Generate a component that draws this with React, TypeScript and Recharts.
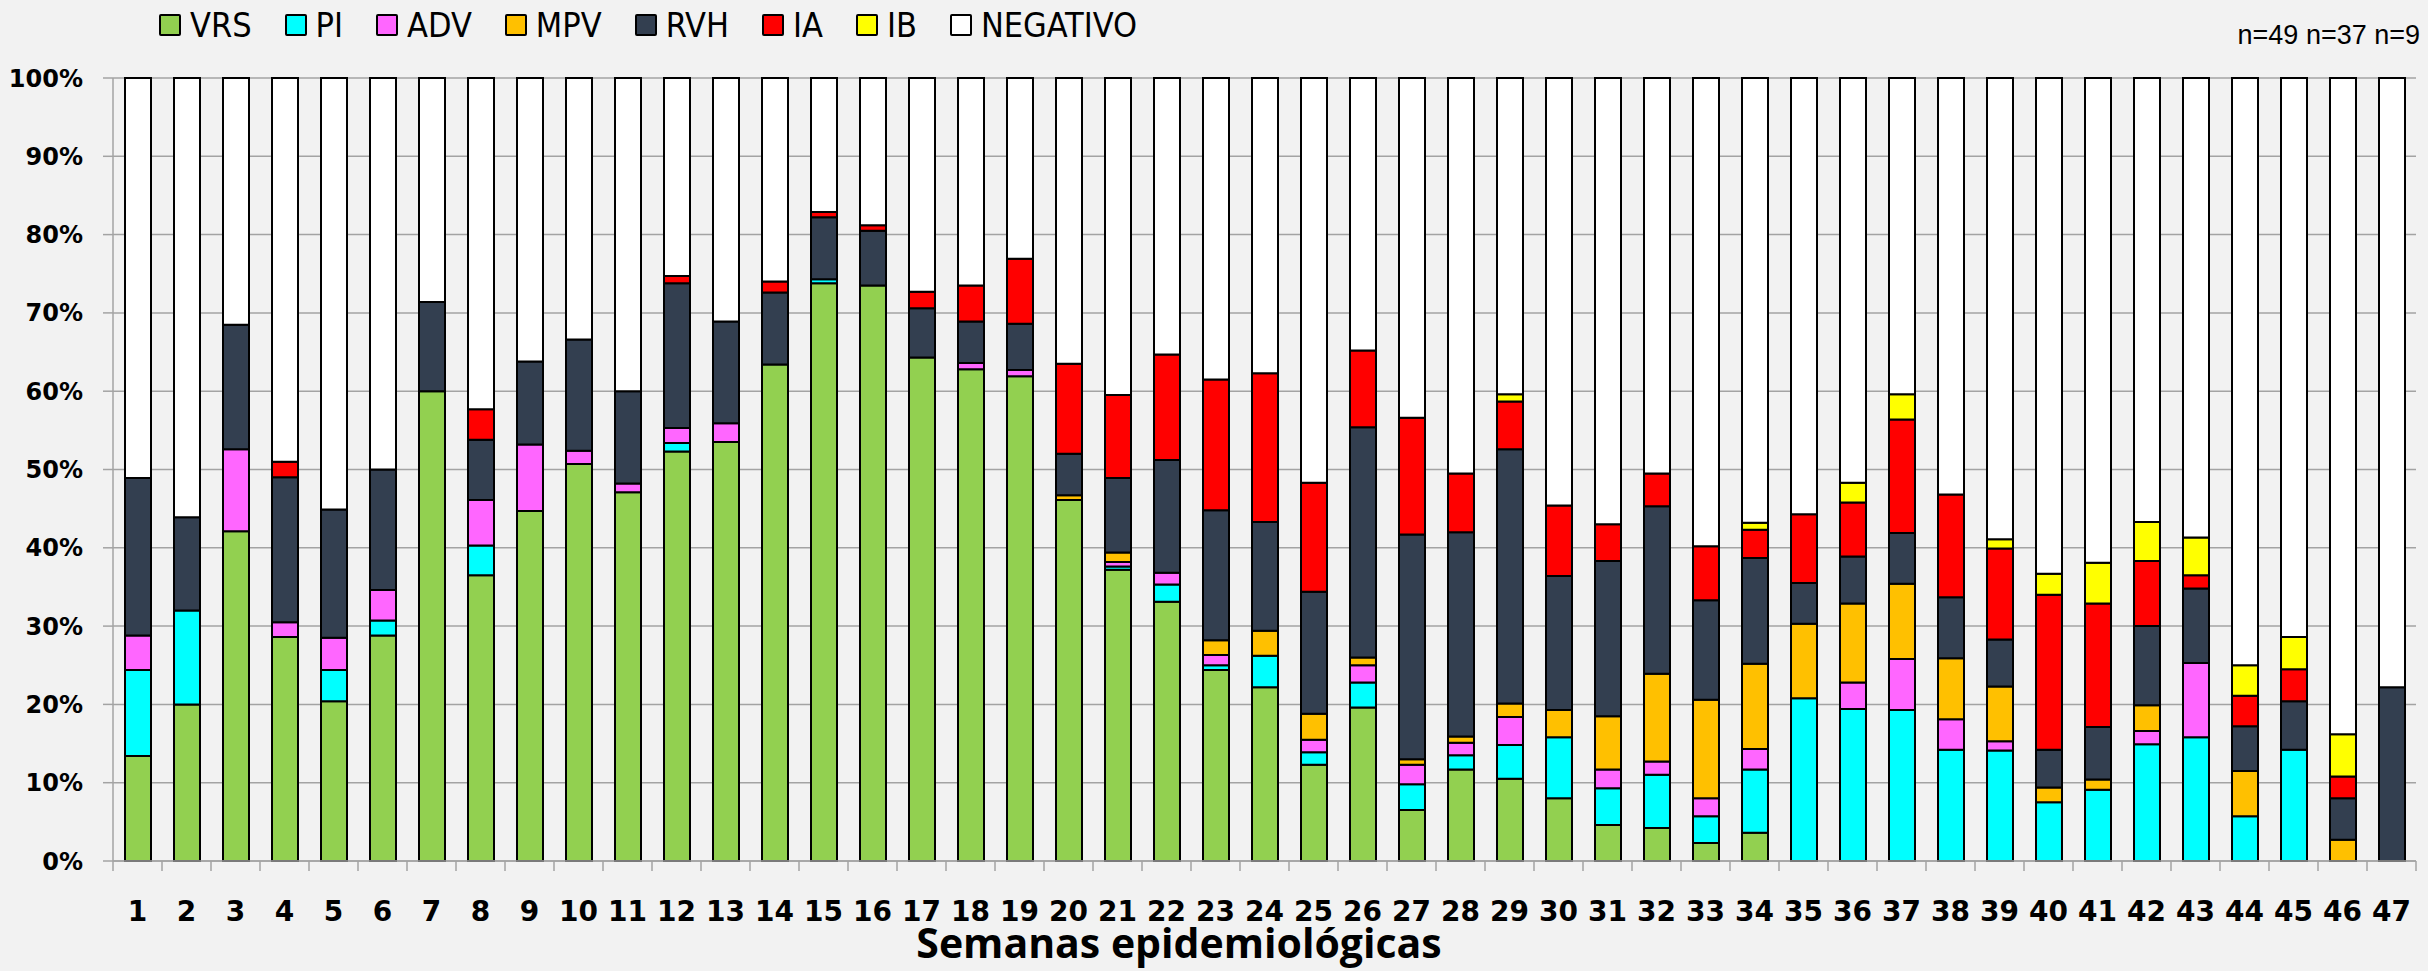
import { BarChart, Bar, XAxis, YAxis, CartesianGrid } from "recharts";

// semanas epidemiológicas 1..47
const weeks = [
  "1", "2", "3", "4", "5", "6", "7", "8", "9", "10",
  "11", "12", "13", "14", "15", "16", "17", "18", "19", "20",
  "21", "22", "23", "24", "25", "26", "27", "28", "29", "30",
  "31", "32", "33", "34", "35", "36", "37", "38", "39", "40",
  "41", "42", "43", "44", "45", "46", "47",
];

// % per week
const vrs = [13.4, 20.0, 42.1, 28.6, 20.4, 28.8, 60.0, 36.5, 44.7, 50.7, 47.1, 52.3, 53.5, 63.4, 73.8, 73.5, 64.3, 62.8, 61.9, 46.1, 37.2, 33.1, 24.4, 22.2, 12.3, 19.6, 6.5, 11.7, 10.5, 8.0, 4.6, 4.2, 2.3, 3.6, 0, 0, 0, 0, 0, 0, 0, 0, 0, 0, 0, 0, 0];
const pi = [11.0, 12.0, 0, 0, 4.0, 1.9, 0, 3.8, 0, 0, 0, 1.1, 0, 0, 0.5, 0, 0, 0, 0, 0, 0.4, 2.2, 0.6, 4.0, 1.6, 3.2, 3.3, 1.8, 4.3, 7.8, 4.7, 6.8, 3.4, 8.1, 20.8, 19.4, 19.3, 14.2, 14.1, 7.5, 9.1, 14.9, 15.8, 5.7, 14.2, 0, 0];
const adv = [4.4, 0, 10.5, 1.9, 4.1, 3.9, 0, 5.8, 8.5, 1.7, 1.1, 1.9, 2.4, 0, 0, 0, 0, 0.8, 0.8, 0, 0.6, 1.5, 1.3, 0, 1.6, 2.2, 2.5, 1.6, 3.6, 0, 2.4, 1.7, 2.3, 2.6, 0, 3.4, 6.5, 3.9, 1.2, 0, 0, 1.7, 9.5, 0, 0, 0, 0];
const mpv = [0, 0, 0, 0, 0, 0, 0, 0, 0, 0, 0, 0, 0, 0, 0, 0, 0, 0, 0, 0.6, 1.2, 0, 1.9, 3.2, 3.3, 1.0, 0.7, 0.8, 1.7, 3.5, 6.8, 11.2, 12.6, 10.9, 9.5, 10.1, 9.6, 7.8, 7.0, 1.9, 1.3, 3.3, 0, 5.8, 0, 2.7, 0];
const rvh = [20.1, 11.9, 15.9, 18.5, 16.4, 15.4, 11.4, 7.7, 10.6, 14.2, 11.8, 18.5, 13.0, 9.2, 7.9, 7.0, 6.3, 5.3, 5.9, 5.3, 9.5, 14.4, 16.6, 13.9, 15.6, 29.4, 28.7, 26.1, 32.5, 17.1, 19.8, 21.4, 12.7, 13.5, 5.2, 6.0, 6.5, 7.8, 6.0, 4.8, 6.7, 10.1, 9.5, 5.7, 6.2, 5.3, 22.2];
const ia = [0, 0, 0, 2.0, 0, 0, 0, 3.9, 0, 0, 0, 0.9, 0, 1.4, 0.7, 0.7, 2.1, 4.6, 8.3, 11.5, 10.6, 13.5, 16.7, 19.0, 13.9, 9.8, 14.9, 7.5, 6.1, 9.0, 4.7, 4.2, 6.9, 3.6, 8.8, 6.9, 14.5, 13.1, 11.6, 19.8, 15.8, 8.3, 1.7, 3.9, 4.1, 2.8, 0];
const ib = [0, 0, 0, 0, 0, 0, 0, 0, 0, 0, 0, 0, 0, 0, 0, 0, 0, 0, 0, 0, 0, 0, 0, 0, 0, 0, 0, 0, 0.9, 0, 0, 0, 0, 0.9, 0, 2.5, 3.2, 0, 1.2, 2.7, 5.2, 5.0, 4.8, 3.9, 4.1, 5.4, 0];
const negativo = [51.1, 56.1, 31.5, 49.0, 55.1, 50.0, 28.6, 42.3, 36.2, 33.4, 40.0, 25.3, 31.1, 26.0, 17.1, 18.8, 27.3, 26.5, 23.1, 36.5, 40.5, 35.3, 38.5, 37.7, 51.7, 34.8, 43.4, 50.5, 40.4, 54.6, 57.0, 50.5, 59.8, 56.8, 55.7, 51.7, 40.4, 53.2, 58.9, 63.3, 61.9, 56.7, 58.7, 75.0, 71.4, 83.8, 77.8];

const yTicks = [0, 0.1, 0.2, 0.3, 0.4, 0.5, 0.6, 0.7, 0.8, 0.9, 1];

const series = [
  { key: "VRS", color: "#92D050", values: vrs },
  { key: "PI", color: "#00FFFF", values: pi },
  { key: "ADV", color: "#FF66FF", values: adv },
  { key: "MPV", color: "#FFC000", values: mpv },
  { key: "RVH", color: "#333F50", values: rvh },
  { key: "IA", color: "#FF0000", values: ia },
  { key: "IB", color: "#FFFF00", values: ib },
  { key: "NEGATIVO", color: "#FFFFFF", values: negativo },
];

const data = weeks.map((w, i) => {
  const row: Record<string, string | number> = { week: w };
  series.forEach((s) => (row[s.key] = s.values[i]));
  return row;
});

const W = 2428;
const H = 971;
const LEFT = 113;
const RIGHT = 12;
const GRID = "#a3a3a3";
const BAND = (W - LEFT - RIGHT) / weeks.length;

const WeekTick = (props: any) => {
  const { x, y, payload, index } = props;
  const half = payload?.offset || BAND / 2;
  return (
    <g>
      <line x1={x - half} x2={x - half} y1={y} y2={y + 10} stroke={GRID} strokeWidth={1.5} />
      {index === weeks.length - 1 && (
        <line x1={x + half} x2={x + half} y1={y} y2={y + 10} stroke={GRID} strokeWidth={1.5} />
      )}
      <text
        x={x}
        y={y + 60}
        textAnchor="middle"
        fontFamily="DejaVu Sans"
        fontWeight={700}
        fontSize={28}
        fill="#000"
      >
        {payload.value}
      </text>
    </g>
  );
};

export default function App() {
  return (
    <div style={{ position: "relative", width: W, height: H, background: "#f2f2f2", overflow: "hidden" }}>
      <style>{"body{margin:0;}"}</style>

      {/* legend */}
      <div
        style={{
          position: "absolute",
          top: 8,
          left: 159,
          display: "flex",
          alignItems: "center",
          fontFamily: "'Liberation Sans Narrow', 'DejaVu Sans Condensed', sans-serif",
          fontSize: 34,
          lineHeight: "34px",
        }}
      >
        {series.map((s) => (
          <div key={s.key} style={{ display: "flex", alignItems: "center", marginRight: 33 }}>
            <span
              style={{
                width: 18,
                height: 18,
                background: s.color,
                border: "2px solid #000",
                borderRadius: 2,
                marginRight: 9,
                display: "inline-block",
              }}
            />
            <span>{s.key}</span>
          </div>
        ))}
      </div>

      <BarChart
        width={W}
        height={H}
        data={data}
        stackOffset="expand"
        margin={{ top: 78, right: RIGHT, left: 0, bottom: 0 }}
      >
        <CartesianGrid vertical={false} stroke={GRID} strokeWidth={1.5} />
        <XAxis
          dataKey="week"
          height={110}
          interval={0}
          tickSize={0}
          tickMargin={0}
          tickLine={false}
          axisLine={{ stroke: GRID, strokeWidth: 1.5 }}
          tick={<WeekTick />}
        />
        <YAxis
          width={LEFT}
          domain={[0, 1]}
          ticks={yTicks}
          interval={0}
          tickFormatter={(v) => `${Math.round(v * 100)}%`}
          tickSize={10}
          tickMargin={20}
          tickLine={{ stroke: GRID, strokeWidth: 1.5 }}
          axisLine={{ stroke: GRID, strokeWidth: 1.5 }}
          tick={{ fontFamily: "DejaVu Sans", fontWeight: 700, fontSize: 24, fill: "#000" }}
        />
        {series.map((s) => (
          <Bar
            key={s.key}
            dataKey={s.key}
            stackId="a"
            fill={s.color}
            stroke="#000"
            strokeWidth={2}
            barSize={26}
            isAnimationActive={false}
          />
        ))}
      </BarChart>

      <svg
        width={W}
        height={H}
        style={{ position: "absolute", left: 0, top: 0, pointerEvents: "none" }}
      >
        <text x={2420} y={44} textAnchor="end" fontFamily="Liberation Sans" fontSize={27} fill="#000">
          n=49 n=37 n=9
        </text>
        <text
          x={1179}
          y={958}
          textAnchor="middle"
          fontFamily="Open Sans"
          fontWeight={700}
          fontSize={41}
          fill="#000"
        >
          Semanas epidemiológicas
        </text>
      </svg>
    </div>
  );
}
